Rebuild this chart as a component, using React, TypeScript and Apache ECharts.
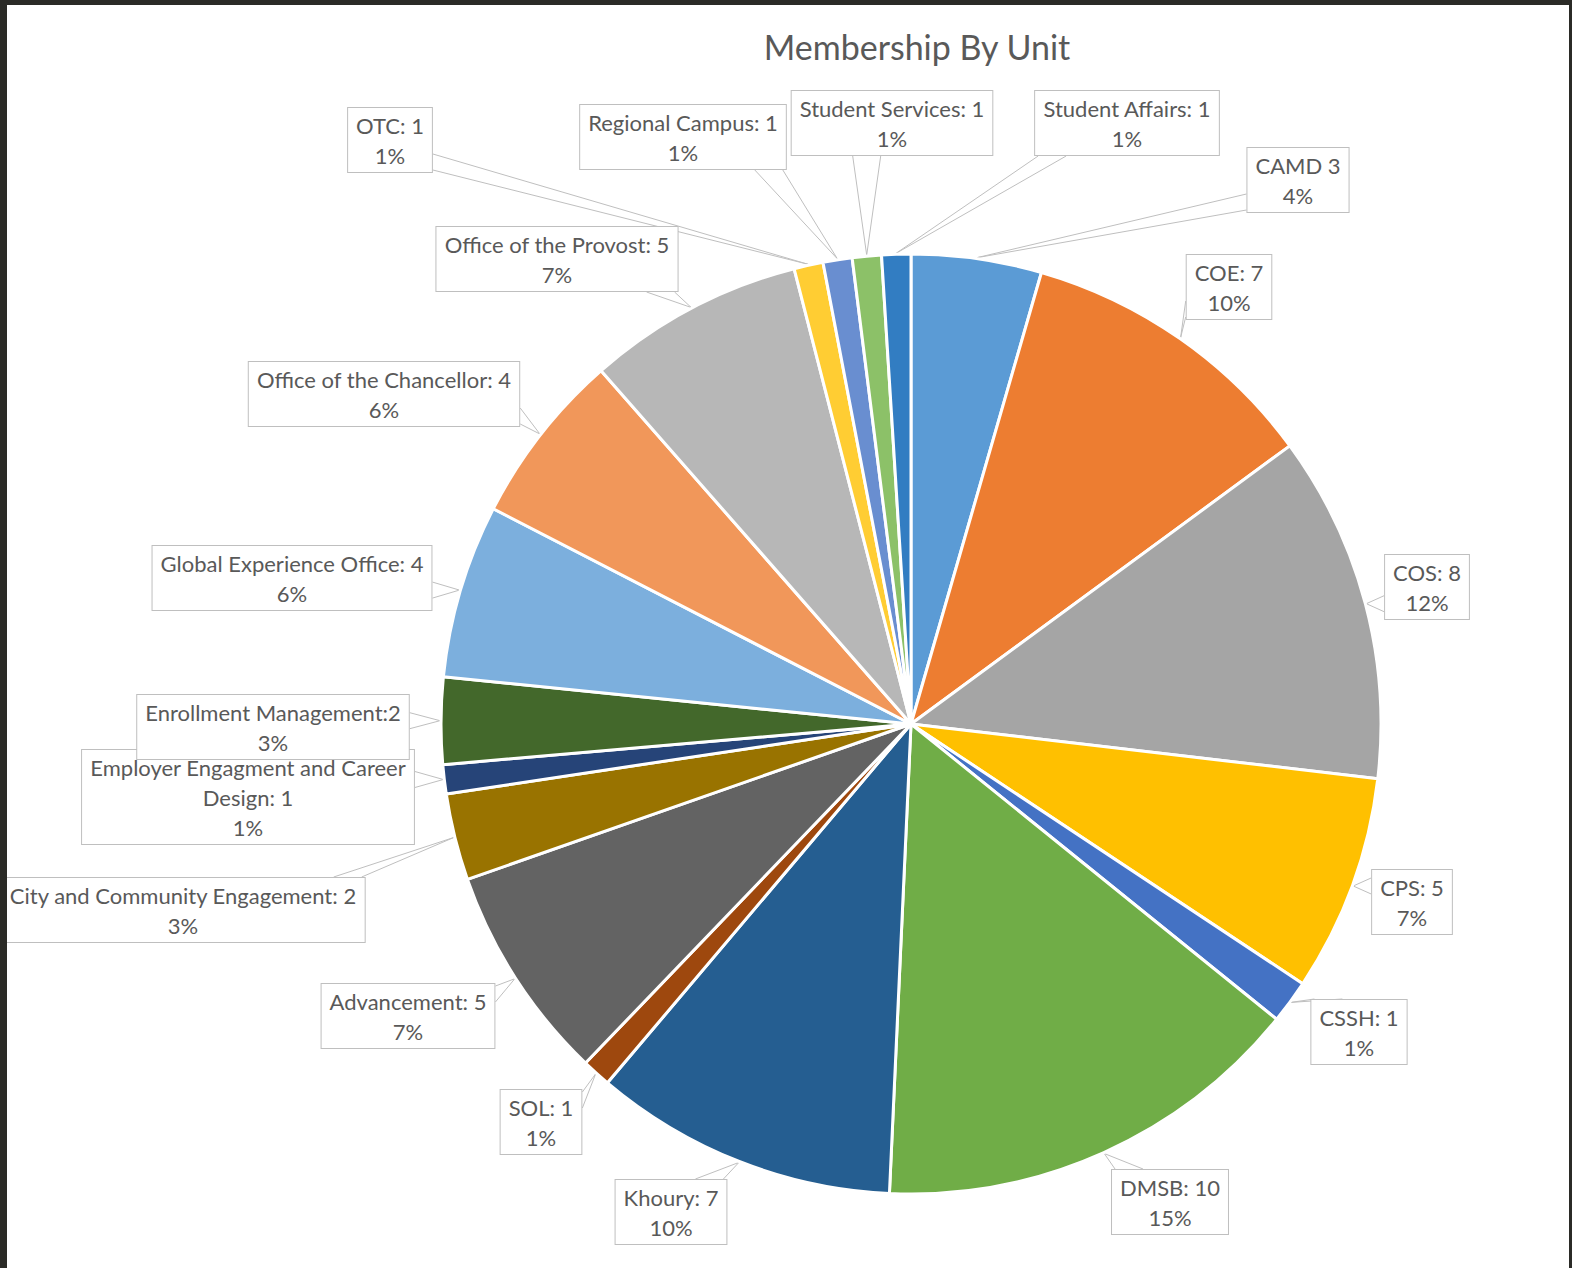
import React, { useEffect, useRef } from "react";
import * as echarts from "echarts";

// ---- data ----
const categories: string[] = [
  "CAMD",
  "COE",
  "COS",
  "CPS",
  "CSSH",
  "DMSB",
  "Khoury",
  "SOL",
  "Advancement",
  "City and Community Engagement",
  "Employer Engagment and Career Design",
  "Enrollment Management",
  "Global Experience Office",
  "Office of the Chancellor",
  "Office of the Provost",
  "OTC",
  "Regional Campus",
  "Student Services",
  "Student Affairs",
];
// thin slices read as about 2/3 of a member (displayed rounded as 1)
const values: number[] = [3, 7, 8, 5, 1, 10, 7, 0.67, 5, 2, 0.67, 2, 4, 4, 5, 0.67, 0.67, 0.67, 0.67];
const chartTitle = "Membership By Unit";

// ---- styles / layout ----
const colors: string[] = [
  "#5B9BD5", "#ED7D31", "#A5A5A5", "#FFC000", "#4472C4", "#70AD47",
  "#255E91", "#9E480E", "#636363", "#997300", "#264478", "#43682B",
  "#7CAFDD", "#F1975A", "#B7B7B7", "#FFCD33", "#698ED0", "#8CC168",
  "#327DC2",
];
const CX = 911;
const CY = 724;
const R = 470;
// label box centres and the edge the callout tail leaves from
const labelPlacement: [number, number, "l" | "r" | "t" | "b"][] = [
  [1298, 180, "l"],
  [1229, 287, "l"],
  [1427, 587, "l"],
  [1412, 902, "l"],
  [1359, 1032, "t"],
  [1170, 1202, "t"],
  [671, 1212, "t"],
  [541, 1122, "r"],
  [408, 1016, "r"],
  [183, 910, "t"],
  [248, 797, "r"],
  [273, 727, "r"],
  [292, 578, "r"],
  [384, 394, "r"],
  [557, 259, "b"],
  [390, 140, "r"],
  [683, 137, "b"],
  [892, 123, "b"],
  [1127, 123, "b"],
];
const separatorOverrides: Record<string, string> = {
  CAMD: " ",
  "Enrollment Management": ":",
};

export default function App() {
  const ref = useRef<HTMLDivElement>(null);
  useEffect(() => {
    if (!ref.current) return;
    const chart = echarts.init(ref.current, undefined, { renderer: "svg" });
    const total = values.reduce((a, b) => a + b, 0);
    const midAngles: number[] = [];
    let acc = 0;
    values.forEach((v) => {
      midAngles.push(((acc + v / 2) / total) * 360);
      acc += v;
    });

    const option: any = {
      animation: false,
      backgroundColor: "#ffffff",
      title: {
        text: chartTitle,
        left: 912,
        top: 24,
        textAlign: "center",
        textStyle: {
          fontFamily: "Lato",
          fontSize: 34,
          fontWeight: "normal",
          color: "#595959",
        },
      },
      graphic: [
        { type: "rect", z: 100, shape: { x: 0, y: 0, width: 1572, height: 5 }, style: { fill: "#2b2b27" } },
        { type: "rect", z: 100, shape: { x: 0, y: 0, width: 7, height: 1268 }, style: { fill: "#2b2b27" } },
        { type: "rect", z: 100, shape: { x: 1569, y: 0, width: 3, height: 1268 }, style: { fill: "#2b2b27" } },
      ],
      series: [
        {
          type: "pie",
          center: [CX, CY],
          radius: R,
          startAngle: 90,
          clockwise: true,
          avoidLabelOverlap: false,
          itemStyle: { borderColor: "#ffffff", borderWidth: 3 },
          label: {
            show: true,
            position: "outside",
            fontFamily: "Lato",
            fontSize: 22,
            lineHeight: 30,
            color: "#595959",
            backgroundColor: "#ffffff",
            borderColor: "#BFBFBF",
            borderWidth: 1,
            padding: [2, 8, 2, 8],
            align: "center",
            formatter: (p: any) => {
              const sep = separatorOverrides[p.name] ?? ": ";
              const pct = Math.round((p.value / total) * 100);
              const name = String(p.name).replace("and Career ", "and Career\n");
              return `${name}${sep}${Math.round(p.value)}\n${pct}%`;
            },
          },
          labelLine: {
            show: true,
            length: 10,
            length2: 10,
            lineStyle: { color: "#BFBFBF", width: 1 },
          },
          labelLayout: (params: any) => {
            const i = params.dataIndex;
            const [bx, by, side] = labelPlacement[i];
            const w = params.labelRect.width;
            const h = params.labelRect.height;
            const a = (midAngles[i] * Math.PI) / 180;
            const tip = [CX + (R + 1) * Math.sin(a), CY - (R + 1) * Math.cos(a)];
            const left = bx - w / 2;
            const right = bx + w / 2;
            const top = by - h / 2;
            const bottom = by + h / 2;
            const clamp = (v: number, lo: number, hi: number) => Math.max(lo, Math.min(hi, v));
            let p1: number[];
            let p2: number[];
            if (side === "t" || side === "b") {
              const half = 14;
              const ey = side === "t" ? top : bottom;
              const c = clamp(tip[0], left + half + 4, right - half - 4);
              p1 = [c - half, ey];
              p2 = [c + half, ey];
            } else {
              const half = 8;
              const ex = side === "l" ? left : right;
              const c = clamp(tip[1], top + half + 3, bottom - half - 3);
              p1 = [ex, c - half];
              p2 = [ex, c + half];
            }
            return {
              x: bx,
              y: by,
              align: "center",
              verticalAlign: "middle",
              labelLinePoints: [p1, tip, p2],
            };
          },
          data: categories.map((name, i) => ({
            name,
            value: values[i],
            itemStyle: { color: colors[i] },
          })),
        },
      ],
    };
    chart.setOption(option);
    return () => chart.dispose();
  }, []);
  return (
    <div
      ref={ref}
      style={{ position: "fixed", left: 0, top: 0, width: 1572, height: 1268, background: "#fff" }}
    />
  );
}
